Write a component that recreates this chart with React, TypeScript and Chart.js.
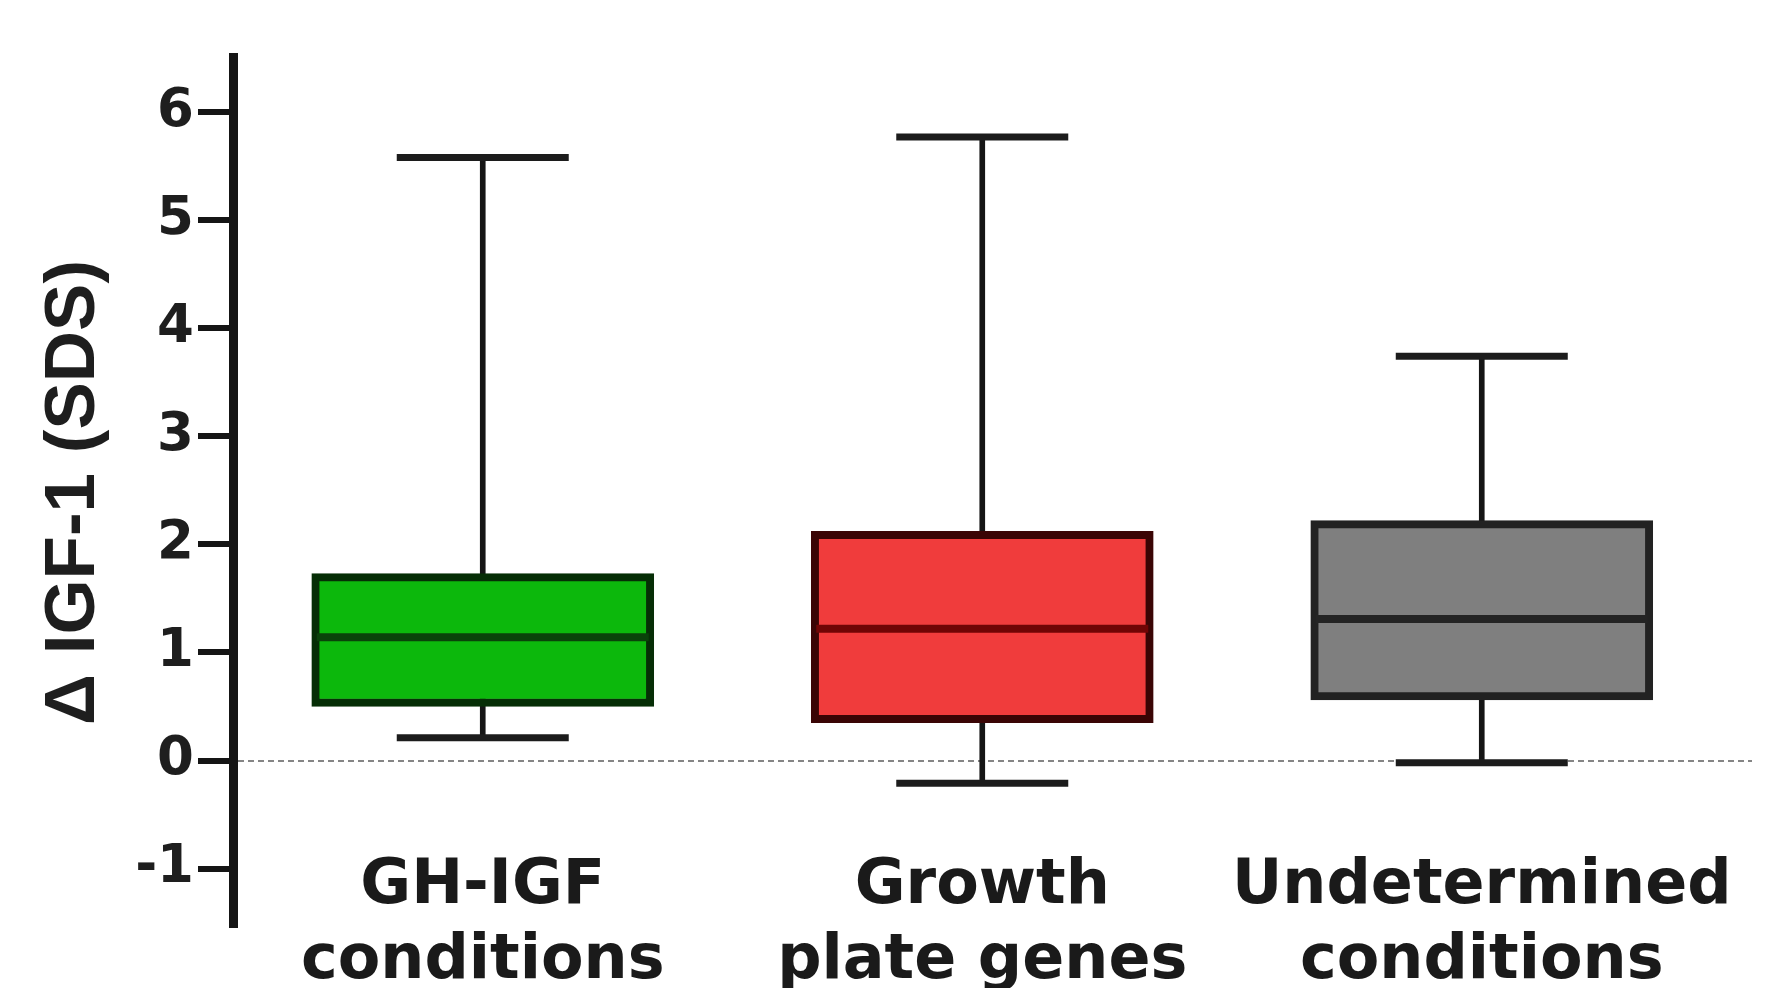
import React, { useEffect, useRef } from "react";
import { Chart, registerables } from "chart.js";

Chart.register(...registerables);

// ---- data ----
const CATEGORIES: string[][] = [
  ["GH-IGF", "conditions"],
  ["Growth", "plate genes"],
  ["Undetermined", "conditions"],
];
const POSITIONS = [0, 1, 2];
const WHISKER_LOW = [0.21, -0.21, -0.02];
const Q1 = [0.5, 0.35, 0.56];
const MEDIAN = [1.14, 1.22, 1.31];
const Q3 = [1.73, 2.12, 2.22];
const WHISKER_HIGH = [5.58, 5.77, 3.74];
const Y_TICKS = [-1, 0, 1, 2, 3, 4, 5, 6];
const Y_MIN = -1.55;
const Y_MAX = 6.51;
const Y_TITLE = "Δ IGF-1 (SDS)";

const FILL_COLORS = ["#0cb80c", "#f03c3c", "#7f7f7f"];
const BORDER_COLORS = ["#062e06", "#3a0505", "#222222"];
const MEDIAN_COLORS = ["#0a420a", "#700505", "#242424"];

export default function App() {
  const ref = useRef<HTMLCanvasElement>(null);

  useEffect(() => {
    const canvas = ref.current;
    if (!canvas) return;
    const chart = new Chart(canvas, {
      type: "bar",
      data: {
        datasets: [
          {
            type: "bar",
            label: "whisker",
            data: POSITIONS.map((x, i) => ({ x, y: [WHISKER_LOW[i], WHISKER_HIGH[i]] })) as any,
            backgroundColor: "#151515",
            borderWidth: 0,
            barThickness: 5,
            grouped: false,
            order: 4,
          } as any,
          {
            type: "bar",
            label: "box",
            data: POSITIONS.map((x, i) => ({ x, y: [Q1[i], Q3[i]] })) as any,
            backgroundColor: FILL_COLORS,
            borderColor: BORDER_COLORS,
            borderWidth: 8,
            borderSkipped: false,
            barThickness: 342,
            grouped: false,
            order: 3,
          } as any,
          {
            type: "line",
            label: "upper cap",
            data: POSITIONS.map((x, i) => ({ x, y: WHISKER_HIGH[i] })),
            showLine: false,
            pointStyle: "line",
            pointRadius: 86,
            pointHoverRadius: 86,
            pointBorderWidth: 7,
            pointBorderColor: "#1c1c1c",
            order: 2,
          } as any,
          {
            type: "line",
            label: "lower cap",
            data: POSITIONS.map((x, i) => ({ x, y: WHISKER_LOW[i] })),
            showLine: false,
            pointStyle: "line",
            pointRadius: 86,
            pointHoverRadius: 86,
            pointBorderWidth: 7,
            pointBorderColor: "#1c1c1c",
            order: 2,
          } as any,
          {
            type: "line",
            label: "median",
            data: POSITIONS.map((x, i) => ({ x, y: MEDIAN[i] })),
            showLine: false,
            pointStyle: "line",
            pointRadius: 166,
            pointHoverRadius: 166,
            pointBorderWidth: 8,
            pointBorderColor: MEDIAN_COLORS,
            order: 1,
          } as any,
        ],
      },
      options: {
        responsive: false,
        animation: false,
        devicePixelRatio: 1,
        layout: { autoPadding: false, padding: { left: 16, right: 16, top: 57, bottom: 60 } },
        plugins: {
          legend: { display: false },
          tooltip: { enabled: false },
        },
        scales: {
          x: {
            type: "linear",
            position: { y: Y_MIN },
            min: -0.5,
            max: 2.541,
            offset: false,
            afterBuildTicks: (s: any) => {
              s.ticks = POSITIONS.map((v) => ({ value: v }));
            },
            grid: { display: false, drawTicks: false },
            border: { display: false },
            ticks: {
              autoSkip: false,
              maxRotation: 0,
              minRotation: 0,
              padding: -79,
              color: "#1a1a1a",
              font: { family: "DejaVu Sans", weight: "bold", size: 62, lineHeight: 1.21 },
              callback: (v: any) => CATEGORIES[Number(v)] ?? "",
            },
          },
          y: {
            type: "linear",
            min: Y_MIN,
            max: Y_MAX,
            afterBuildTicks: (s: any) => {
              s.ticks = Y_TICKS.map((v) => ({ value: v }));
            },
            afterFit: (s: any) => {
              s.width = 217;
            },
            ticks: {
              padding: 4,
              color: "#1e1e1e",
              font: { family: "DejaVu Sans", weight: "bold", size: 53 },
              callback: (v: any) => String(v),
            },
            grid: {
              drawTicks: true,
              tickLength: 35,
              tickWidth: 6,
              tickColor: "#151515",
              color: (c: any) => (c.tick && c.tick.value === 0 ? "#858585" : "rgba(0,0,0,0)"),
              lineWidth: (c: any) => (c.tick && c.tick.value === 0 ? 2 : 0),
            },
            border: { display: true, width: 9, color: "#151515", dash: [6, 4] },
            title: {
              display: true,
              text: Y_TITLE,
              color: "#1e1e1e",
              font: { family: "Liberation Sans", weight: "bold", size: 71 },
              padding: { top: 16, bottom: 15 },
            },
          },
        },
      } as any,
    });
    return () => chart.destroy();
  }, []);

  return (
    <div style={{ position: "absolute", left: 0, top: 0, width: 1768, height: 988, background: "#fff" }}>
      <canvas ref={ref} width={1768} height={988} />
    </div>
  );
}
